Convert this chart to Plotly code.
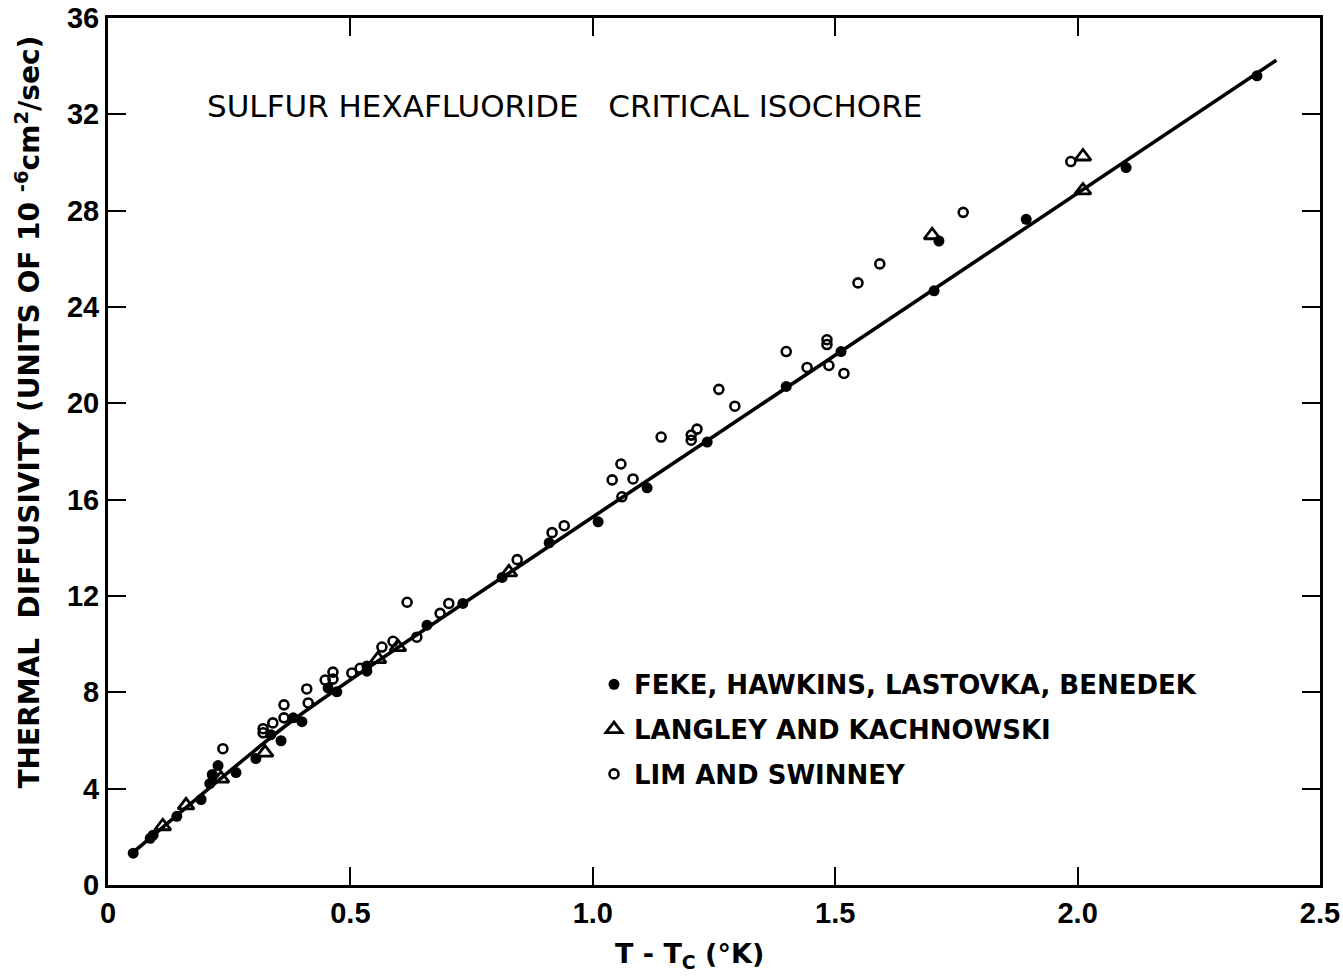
import plotly.graph_objects as go

# Feke, Hawkins, Lastovka, Benedek (filled dots)
feke_dt = [0.052, 0.087, 0.093, 0.142, 0.192, 0.210, 0.215, 0.227, 0.264, 0.305,
           0.336, 0.357, 0.382, 0.400, 0.454, 0.472, 0.534, 0.534, 0.658, 0.732,
           0.813, 0.910, 1.011, 1.112, 1.236, 1.399, 1.512, 1.704, 1.714, 1.894,
           2.100, 2.370]
feke_d = [1.32, 1.94, 2.07, 2.85, 3.55, 4.21, 4.59, 4.96, 4.67, 5.25,
          6.24, 5.99, 6.94, 6.78, 8.18, 8.02, 9.09, 8.88, 10.79, 11.69,
          12.77, 14.21, 15.08, 16.49, 18.39, 20.70, 22.15, 24.67, 26.74, 27.64,
          29.79, 33.60]

# Langley and Kachnowski (open triangles)
langley_dt = [0.113, 0.161, 0.233, 0.324, 0.557, 0.598, 0.827, 1.700, 2.011, 2.011]
langley_d = [2.44, 3.31, 4.42, 5.50, 9.38, 9.88, 12.98, 26.98, 28.84, 30.25]

# Lim and Swinney (open circles)
lim_dt = [0.237, 0.320, 0.320, 0.340, 0.363, 0.363, 0.410, 0.413, 0.448, 0.464,
          0.464, 0.503, 0.520, 0.565, 0.588, 0.617, 0.637, 0.685, 0.703, 0.844,
          0.916, 0.941, 1.040, 1.058, 1.060, 1.083, 1.141, 1.203, 1.203, 1.215,
          1.260, 1.293, 1.399, 1.442, 1.483, 1.483, 1.487, 1.518, 1.547, 1.592,
          1.764, 1.986]
lim_d = [5.66, 6.49, 6.32, 6.73, 7.48, 6.94, 8.14, 7.56, 8.51, 8.84,
         8.55, 8.80, 9.00, 9.88, 10.12, 11.74, 10.29, 11.28, 11.69, 13.51,
         14.63, 14.92, 16.82, 17.48, 16.12, 16.86, 18.60, 18.47, 18.68, 18.93,
         20.58, 19.88, 22.15, 21.49, 22.64, 22.44, 21.57, 21.24, 25.00, 25.79,
         27.93, 30.04]

# Smooth curve drawn through the data
curve_dt = [0.05, 0.38, 0.93, 1.53, 2.41]
curve_d = [1.32, 6.82, 14.34, 22.40, 34.25]

x_ticks = [0, 0.5, 1.0, 1.5, 2.0, 2.5]
x_tick_text = ["0", "0.5", "1.0", "1.5", "2.0", "2.5"]
y_ticks = [0, 4, 8, 12, 16, 20, 24, 28, 32, 36]

FONT = "DejaVu Sans"
NARROW = "Liberation Sans Narrow, Liberation Sans, sans-serif"
INK = "black"

fig = go.Figure()

fig.add_trace(go.Scatter(
    x=curve_dt, y=curve_d, mode="lines",
    line=dict(color=INK, width=3.6, shape="spline", smoothing=0.6),
    showlegend=False, hoverinfo="skip"))

fig.add_trace(go.Scatter(
    x=feke_dt, y=feke_d, mode="markers",
    name="FEKE, HAWKINS, LASTOVKA, BENEDEK", legendgroup="a",
    marker=dict(symbol="circle", size=11, color=INK)))

fig.add_trace(go.Scatter(
    x=langley_dt, y=langley_d, mode="markers",
    name="LANGLEY AND KACHNOWSKI", legendgroup="b",
    marker=dict(symbol="triangle-up-open", size=14, color=INK,
                line=dict(width=2.8, color=INK))))

fig.add_trace(go.Scatter(
    x=lim_dt, y=lim_d, mode="markers",
    name="LIM AND SWINNEY", legendgroup="c",
    marker=dict(symbol="circle-open", size=9, color=INK,
                line=dict(width=2.6, color=INK))))

axis_common = dict(
    showline=True, linecolor=INK, linewidth=3, mirror="ticks",
    ticks="inside", ticklen=18, tickwidth=2.2, tickcolor=INK,
    showgrid=False, zeroline=False, automargin=False,
    tickfont=dict(family=NARROW, size=29, color=INK, weight="bold"),
)

fig.update_layout(
    width=1343, height=979,
    margin=dict(l=108, r=23, t=18, b=94, autoexpand=False),
    paper_bgcolor="white", plot_bgcolor="white",
    font=dict(family=FONT, color=INK),
    xaxis=dict(range=[0, 2.5], tickvals=x_ticks, ticktext=x_tick_text, **axis_common),
    yaxis=dict(range=[0, 36], tickvals=y_ticks, **axis_common),
    legend=dict(x=0.401, y=0.2585, xanchor="left", yanchor="top",
                bgcolor="rgba(0,0,0,0)", borderwidth=0,
                font=dict(family=FONT, size=26, color=INK, weight="bold"),
                tracegroupgap=8, itemsizing="trace"),
    annotations=[
        dict(text="SULFUR HEXAFLUORIDE   CRITICAL ISOCHORE",
             xref="paper", yref="paper", x=0.08, y=0.899,
             xanchor="left", yanchor="middle", showarrow=False,
             font=dict(family=FONT, size=31, color=INK)),
        dict(text="THERMAL  DIFFUSIVITY (UNITS OF 10 <sup>-6</sup>cm<sup>2</sup>/sec)",
             xref="paper", yref="paper", x=-0.066, y=0.545, textangle=-90,
             xanchor="center", yanchor="middle", showarrow=False,
             font=dict(family=FONT, size=28, color=INK, weight="bold")),
        dict(text="T - T<sub>C</sub> (°K)",
             xref="paper", yref="paper", x=0.48, y=-0.081,
             xanchor="center", yanchor="middle", showarrow=False,
             font=dict(family=FONT, size=27, color=INK, weight="bold")),
    ],
)

fig.write_html("out.html")
